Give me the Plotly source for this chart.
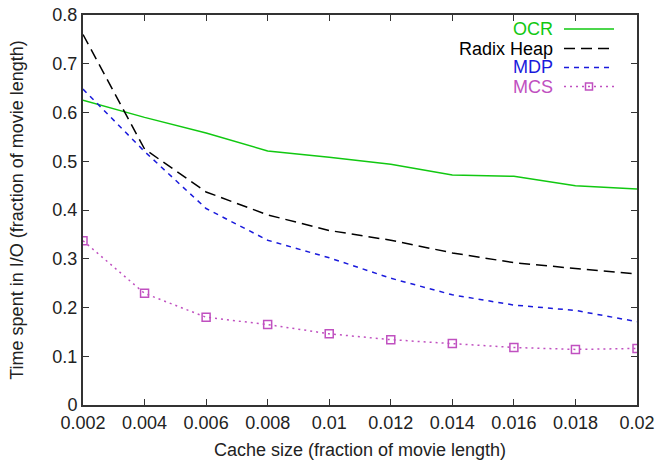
import plotly.graph_objects as go

cache_size = [0.002, 0.004, 0.006, 0.008, 0.010, 0.012, 0.014, 0.016, 0.018, 0.020]
ocr = [0.625, 0.590, 0.558, 0.521, 0.508, 0.494, 0.472, 0.469, 0.450, 0.443]
radix_heap = [0.760, 0.525, 0.437, 0.390, 0.358, 0.338, 0.312, 0.292, 0.280, 0.269]
mdp = [0.648, 0.520, 0.403, 0.338, 0.302, 0.260, 0.226, 0.205, 0.194, 0.171]
mcs = [0.337, 0.229, 0.180, 0.165, 0.146, 0.134, 0.126, 0.118, 0.114, 0.116]

x_ticks = [0.002, 0.004, 0.006, 0.008, 0.01, 0.012, 0.014, 0.016, 0.018, 0.02]
x_ticktext = ["0.002", "0.004", "0.006", "0.008", "0.01", "0.012", "0.014", "0.016", "0.018", "0.02"]
y_ticks = [0, 0.1, 0.2, 0.3, 0.4, 0.5, 0.6, 0.7, 0.8]
y_ticktext = ["0", "0.1", "0.2", "0.3", "0.4", "0.5", "0.6", "0.7", "0.8"]

names = ["OCR", "Radix Heap", "MDP", "MCS"]
colors = ["#11c811", "#000000", "#1a1adc", "#c050c0"]
dashes = ["solid", "11px,6px", "5px,5px", "2px,4px"]

W, H = 657, 464
L, R, T, B = 83, 20, 15, 59
pw, ph = W - L - R, H - T - B
FS = 18

def px(xp):
    return (xp - L) / pw

def py(yp):
    return (H - B - yp) / ph

fig = go.Figure()
series = [ocr, radix_heap, mdp, mcs]
for i, (n, s) in enumerate(zip(names, series)):
    kw = dict(mode="lines")
    if n == "MCS":
        kw = dict(mode="lines+markers",
                  marker=dict(symbol="square-open", size=8, color=colors[i], line=dict(width=1.5)))
    fig.add_trace(go.Scatter(x=cache_size, y=s, name=n,
                             line=dict(color=colors[i], width=1.5, dash=dashes[i]),
                             showlegend=False, **kw))

# gnuplot-style legend (text right-aligned, sample to the right)
row_y = [29, 48.5, 67.5, 86.5]
for i, n in enumerate(names):
    fig.add_annotation(x=px(554), y=py(row_y[i]), xref="paper", yref="paper",
                       text=n, showarrow=False, xanchor="right", yanchor="middle",
                       font=dict(size=FS, color=colors[i]), borderpad=0)
    fig.add_shape(type="line", xref="paper", yref="paper",
                  x0=px(564), x1=px(614), y0=py(row_y[i]), y1=py(row_y[i]),
                  line=dict(color=colors[i], width=1.5, dash=dashes[i]))
    if n == "MCS":
        fig.add_shape(type="rect", xref="paper", yref="paper",
                      x0=px(585.5), x1=px(592.5), y0=py(row_y[i] - 3.5), y1=py(row_y[i] + 3.5),
                      line=dict(color=colors[i], width=1.5), fillcolor="rgba(0,0,0,0)")

axis_common = dict(showline=True, linecolor="#333333", linewidth=2, mirror="ticks",
                   ticks="inside", ticklen=6, tickcolor="#333333", tickwidth=1,
                   showgrid=False, zeroline=False, automargin=False,
                   tickfont=dict(size=FS, color="#222222"))

fig.update_layout(
    width=W, height=H,
    margin=dict(l=L, r=R, t=T, b=B),
    paper_bgcolor="white", plot_bgcolor="white",
    font=dict(family="Liberation Sans, Arial, sans-serif", color="#222222"),
    xaxis=dict(range=[0.002, 0.02], tickvals=x_ticks, ticktext=x_ticktext,
               title=dict(text="Cache size (fraction of movie length)", font=dict(size=FS), standoff=12),
               **axis_common),
    yaxis=dict(range=[0, 0.8], tickvals=y_ticks, ticktext=y_ticktext,
               title=dict(text="Time spent in I/O (fraction of movie length)", font=dict(size=FS), standoff=24),
               **axis_common),
)

fig.write_html("out.html")
